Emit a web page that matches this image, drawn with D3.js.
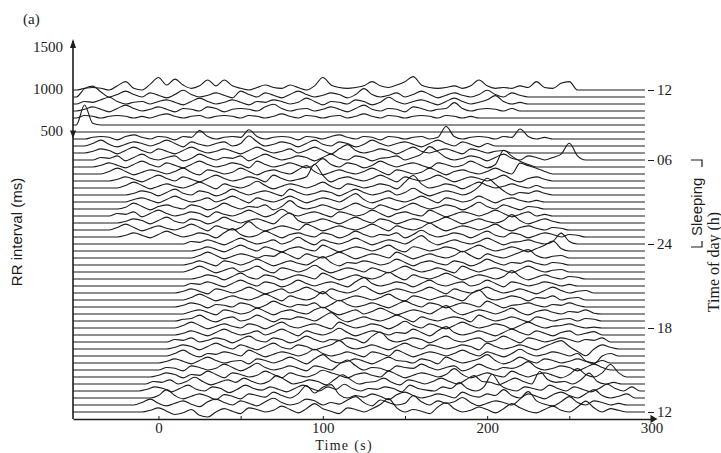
<!DOCTYPE html>
<html>
<head>
<meta charset="utf-8">
<script src="https://cdn.jsdelivr.net/npm/d3@7"></script>
<style>
body { margin: 0; background: #fff; }
</style>
</head>
<body>
<div id="chart"></div>
<script>
const width = 721
const height = 453

// time of day of each 5-min segment (h), bottom trace first
const hours = [12, 12.5, 13, 13.5, 14, 14.5, 15, 15.5, 16, 16.5, 17, 17.5, 18, 18.5, 19, 19.5,
    20, 20.5, 21, 21.5, 22, 22.5, 23, 23.5, 24, 24.5, 25, 25.5, 26, 26.5, 27, 27.5, 28, 28.5,
    29, 29.5, 30, 30.5, 31, 31.5, 32, 32.5, 33, 33.5, 34, 34.5, 35]
// time (s) where the beat-to-beat readings of each trace begin
const starts = [-10, -15, -5, -12, -8, -5, 0, 0, 5, 5, 5, 10, 10, 10, 15, 10,
    15, 10, 15, 20, 15, 15, 20, 20, 15, -25, -30, -25, -30, -25, -20, -20, -25, -30,
    -35, -40, -40, -45, -45, -45, 0, -50, -50, -50, -50, -50, -50]
// RR interval deviation (ms) every 5 s
const rr = [
    [0,20,50,10,-30,-10,30,-40,-60,0,40,10,-20,50,30,0,20,70,30,-10,40,100,40,10,-20,50,30,0,40,90,160,50,0,30,10,-20,60,110,40,0,20,60,30,-10,40,100,50,10,-10,30,70,20,0,60,130,50,0,40,20,0,0],
    [0,30,70,20,-10,20,50,10,-20,40,70,30,0,50,20,-10,40,80,30,0,20,70,50,0,30,10,60,100,30,-10,60,30,0,20,110,40,0,50,20,40,90,30,-10,20,50,30,0,70,160,50,10,-10,40,100,30,0,50,30,0,20,0],
    [0,30,100,30,-10,20,50,20,-20,40,20,-10,50,30,10,70,30,0,50,150,60,130,160,40,0,30,10,50,20,-20,40,70,30,0,20,50,30,0,70,30,10,50,30,100,30,0,50,20,-10,40,70,30,0,50,100,30,0,20,50,0],
    [0,20,50,30,-10,30,70,20,0,50,30,-20,20,70,30,10,50,20,-10,30,70,30,0,50,20,80,30,0,30,20,50,30,-10,70,30,10,0,50,30,100,30,0,50,200,70,20,0,50,30,10,70,30,0,50,20,-10,30,80,30,0,50,0],
    [0,30,20,50,0,30,80,30,-10,20,50,20,70,30,0,30,100,50,0,20,50,30,-10,50,110,50,0,20,30,70,20,-10,50,30,0,30,70,30,0,50,100,30,20,-10,30,70,30,0,150,50,20,30,0,50,130,30,0,20,0,0],
    [0,20,50,30,-10,30,20,70,30,-10,50,30,0,20,70,30,-10,50,20,0,30,80,50,20,-10,30,50,20,0,70,30,-10,20,50,30,0,30,100,30,-10,20,50,20,0,70,30,0,30,50,20,-10,30,100,30,0,50,150,50,0,0],
    [0,30,20,-10,50,30,0,20,70,30,-10,30,80,30,0,20,50,20,-10,50,30,0,70,120,50,0,30,20,-10,50,30,20,70,30,0,30,50,-10,20,70,30,0,30,20,50,100,30,0,20,50,30,-10,30,70,30,0,0],
    [0,20,50,20,-10,30,70,30,0,20,30,-10,50,30,0,30,70,30,-10,50,100,30,0,20,50,20,-10,30,70,30,20,0,50,30,-10,70,30,0,20,50,100,30,-10,20,70,30,0,50,30,0,20,50,20,0,30,0],
    [0,30,70,20,-10,30,20,50,30,0,70,30,-10,20,50,30,0,30,80,30,0,20,50,20,-10,50,30,0,70,30,-10,20,50,30,0,30,70,30,0,50,20,-10,30,80,30,0,20,50,30,0,30,-60,-90,0,30,0],
    [0,20,50,30,-10,30,70,30,0,50,20,-10,30,70,20,0,50,30,-10,20,50,100,30,0,20,50,20,-10,30,70,30,0,50,30,0,20,50,30,-10,70,30,0,20,50,20,-10,30,70,100,30,-30,-80,0,50,20,0],
    [0,30,20,50,0,20,50,30,-10,30,70,20,0,50,30,-10,20,70,30,0,30,20,50,30,-10,70,120,30,0,20,50,30,-10,30,70,20,0,30,50,0,20,70,30,-10,50,30,0,20,50,30,0,30,20,50,0,0],
    [0,20,50,20,-10,30,70,30,0,20,50,0,30,70,30,-10,50,20,0,30,80,30,-10,20,50,30,0,30,20,70,30,-10,50,100,30,0,20,50,20,-10,30,70,30,0,50,20,-10,30,50,0,20,40,0],
    [0,30,70,30,-10,20,50,20,0,50,30,-10,30,70,20,0,30,50,20,-10,70,30,0,20,50,30,-10,30,80,30,0,50,20,-10,30,70,30,0,20,50,30,-10,30,70,30,0,20,30,50,20,0,10,0],
    [0,20,30,70,20,-10,30,50,0,20,70,30,-10,30,20,50,30,0,50,100,30,-10,20,50,20,0,30,70,30,-10,50,20,0,30,50,30,-10,70,30,0,20,50,20,-10,50,30,0,20,30,0,30,20,0],
    [0,30,50,20,-10,50,30,0,20,70,30,-10,30,50,20,0,50,80,30,-10,20,50,0,30,70,30,-10,20,50,30,0,50,100,30,-10,20,50,30,0,30,70,20,-10,30,50,20,0,30,20,50,10,0],
    [0,20,50,30,-10,30,20,0,50,30,-10,20,70,30,0,30,20,50,-10,30,80,30,0,20,50,20,-10,30,70,30,0,50,30,-10,20,50,30,0,70,30,-10,20,30,50,20,0,30,20,50,20,0],
    [0,30,70,30,-10,20,50,20,0,30,70,30,-10,50,20,0,30,100,30,-10,20,50,30,0,30,70,20,-10,50,30,0,30,50,20,-10,70,120,30,0,20,50,30,-10,30,20,50,0,20,30,0],
    [0,20,50,20,-10,50,30,0,30,70,30,-10,20,50,0,30,70,30,-10,50,20,0,30,80,30,-10,20,50,30,0,30,70,30,-10,50,20,0,30,70,30,0,20,50,20,-10,30,70,30,0,20,30,0],
    [0,30,20,50,20,-10,30,70,30,0,50,30,-10,20,70,30,0,30,50,20,-10,50,100,30,0,20,50,30,-10,30,70,20,0,30,50,0,20,70,30,-10,50,30,0,20,50,30,0,20,0],
    [0,20,50,30,-10,30,70,20,0,50,30,-10,20,50,30,0,70,30,-10,20,50,20,0,30,80,30,-10,50,20,0,30,70,30,-10,20,50,30,0,30,100,30,-10,20,50,20,0,30,20,0],
    [0,30,70,30,-10,20,50,0,30,70,20,-10,50,30,0,30,80,30,-10,20,50,30,0,50,20,-10,30,70,30,0,20,50,20,-10,70,30,0,30,50,20,-10,30,70,30,0,20,30,0],
    [0,20,50,20,-10,50,30,0,30,70,30,-10,20,50,20,0,50,100,30,-10,30,20,50,30,0,20,70,30,-10,30,50,20,0,50,30,-10,20,70,30,0,30,20,50,20,0,30,20,0],
    [0,30,70,30,-10,20,50,30,0,30,20,70,30,-10,50,20,0,30,70,30,-10,20,50,30,0,70,30,-10,20,50,20,0,30,80,30,-10,50,20,0,30,70,100,30,0,20,30,0],
    [0,20,50,20,-10,30,70,30,0,50,20,-10,30,50,20,0,70,30,-10,20,50,30,0,30,70,20,-10,50,30,0,20,50,30,-10,30,70,30,0,20,50,20,-10,30,70,120,30,0],
    [0,30,20,50,20,-10,30,70,30,0,20,50,0,30,80,30,-10,50,20,0,30,70,30,-10,20,50,30,0,50,100,30,-10,20,50,20,0,30,70,30,-10,20,30,50,20,0,30,130,30,0],
    [0,20,50,20,-10,30,70,30,0,20,50,30,-10,50,100,30,0,20,70,30,-10,30,50,20,0,50,30,-10,20,70,30,0,30,20,50,-10,30,80,30,0,20,50,30,-10,30,70,20,0,50,30,-10,20,50,30,0,30,20,0,0],
    [0,30,70,30,-10,20,50,20,0,30,70,30,-10,50,20,0,30,100,30,-10,20,50,30,0,70,30,-10,20,50,20,0,30,70,30,-10,50,20,0,30,80,30,-10,20,50,30,0,30,70,20,-10,30,50,20,0,30,20,0,0],
    [0,20,50,30,-10,30,70,20,0,50,30,-10,20,70,30,0,30,50,20,-10,70,120,30,0,20,50,20,-10,30,70,30,0,50,30,-10,20,50,30,0,30,70,30,-10,20,50,20,0,30,100,30,-10,20,50,20,0,0],
    [0,30,20,50,-10,30,70,30,0,20,50,30,-10,50,20,0,30,70,30,-10,20,80,30,0,30,50,20,-10,50,30,0,20,70,30,-10,30,50,20,0,70,30,-10,20,50,30,0,30,70,30,-10,20,50,0,20,0],
    [0,20,70,30,-10,30,50,20,0,50,30,-10,20,70,30,0,30,20,50,-10,30,100,30,0,20,50,20,-10,30,70,30,0,50,20,-10,30,70,30,0,20,50,30,-10,30,80,30,0,50,20,-10,30,20,0],
    [0,30,50,20,-10,30,70,30,0,20,50,0,30,70,30,-10,50,20,0,30,70,30,-10,20,50,30,0,50,100,30,-10,20,50,20,0,30,70,30,-10,50,30,0,20,70,30,-10,30,50,20,0,20,0],
    [0,20,50,30,-10,30,70,20,0,50,30,-10,20,70,30,0,30,50,20,-10,70,30,0,20,50,30,-10,30,70,30,0,20,50,0,30,80,30,-10,20,50,30,0,30,100,200,130,50,0,30,20,50,20,0],
    [0,30,70,30,-10,20,50,20,0,30,70,30,-10,50,20,0,30,80,30,-10,20,50,30,0,30,70,20,-10,50,30,0,20,50,30,-10,70,150,50,0,20,50,30,-10,30,70,30,0,20,50,20,0,30,0],
    [0,20,50,20,-10,30,70,30,0,50,20,-10,30,70,30,0,20,50,30,-10,70,30,0,20,50,200,70,-10,30,50,20,0,30,70,30,-10,50,20,0,30,70,30,-10,20,50,30,0,30,70,20,-10,30,50,20,0,0],
    [0,30,70,30,-10,20,50,30,0,30,70,20,-10,50,30,0,20,70,30,-10,30,50,20,0,50,100,30,-10,20,50,20,0,30,70,30,-10,50,30,0,20,70,30,-10,30,50,20,0,30,70,30,0,130,100,70,30,0,0],
    [0,20,50,20,-10,30,70,30,0,50,20,-10,30,70,30,0,20,50,30,-10,70,30,0,20,50,20,-10,30,100,30,0,50,30,-10,20,70,30,0,30,50,20,-10,50,30,0,20,70,30,-10,30,200,130,70,30,0,0],
    [0,30,20,50,-10,30,70,20,0,30,50,-10,20,70,30,0,30,20,50,-10,30,70,30,0,20,50,30,-10,30,70,20,0,50,30,-10,20,30,50,0,30,70,160,100,30,0,20,50,30,-10,30,70,20,0,50,30,0,30,70,200,50,0,0],
    [0,20,50,30,-10,30,70,30,0,50,20,-10,30,70,30,0,20,50,20,-10,30,70,30,0,20,50,0,30,70,30,-10,50,100,30,0,20,50,30,-10,30,70,20,0,30,50,20,-10,50,30,0,20,30,0,0],
    [0,30,70,20,-10,20,50,30,0,30,70,30,-10,50,20,0,30,50,0,30,120,50,0,20,50,30,-10,30,70,20,0,50,30,-10,20,70,30,0,30,50,20,-10,30,70,30,0,50,20,-10,30,0],
    [0,20,30,20,-10,30,50,20,0,30,20,-10,30,20,100,30,0,20,30,20,110,30,0,20,30,20,-10,30,20,0,30,50,20,0,30,20,-10,30,20,0,20,30,0,20,150,30,0,20,30,20,0,30,20,120,30,0,20,0],
    [0],
    [0,240,20,0],
    [0,30,20,0,20,30,20,0,20,0,30,50,20,0,20,30,0,20,30,20,0,30,20,0,20,50,20,0,30,20,0,20,30,0,20,50,20,0,30,20,0,20,30,20,0,30,20,0,20,0,0],
    [0,20,50,20,-10,30,70,30,0,20,50,20,-10,30,20,0,50,30,-10,20,30,20,0,50,80,30,0,20,30,0,20,50,20,-10,30,70,20,0,30,20,-10,50,30,0,20,30,100,30,0,20,30,20,0,30,0],
    [0,30,20,50,80,30,0,20,30,0,30,50,20,-10,30,70,30,0,20,50,20,-10,30,20,50,30,0,20,70,30,-10,30,20,0,50,30,-10,20,80,30,0,30,50,20,-10,30,70,30,0,20,50,100,30,0,20,0],
    [0,100,130,60,0,30,70,30,0,50,20,-10,30,80,30,0,20,50,20,-10,70,30,0,50,20,-10,30,70,30,0,20,50,30,-10,30,100,30,0,20,50,0,30,70,30,-10,20,50,20,0,30,80,30,0,50,20,0,0],
    [0,20,30,20,0,50,100,20,0,70,150,60,130,60,20,50,120,50,120,50,20,0,30,60,30,20,60,30,0,50,150,60,30,20,30,50,100,50,30,60,100,160,60,30,20,30,50,20,50,120,50,20,30,20,50,30,100,30,20,80,100,0]
]
const rrTicks = [500, 1000, 1500]
const timeTicks = [0, 50, 100, 150, 200, 250, 300]
const hourTicks = [12, 18, 24, 30, 35]
const hourLabels = ['12', '18', '24', '06', '12']

const serif = '"Liberation Serif", "Times New Roman", serif'
const sans = '"Liberation Sans", Arial, sans-serif'
const ink = '#1c1c1c'

const xScale = d3.scaleLinear().domain([-52, 300]).range([73, 651.5])
const hourScale = d3.scaleLinear().domain([12, 35]).range([412, 90])
const rrScale = d3.scaleLinear().domain([500, 1500]).range([130.5, 47])
const tEnd = 296

const svg = d3.select('#chart').append('svg')
    .attr('width', width)
    .attr('height', height)
    .style('display', 'block')

svg.append('rect')
    .attr('width', width)
    .attr('height', height)
    .attr('fill', 'white')

// traces, one per half hour
const lineGroup = svg.append('g').attr('id', 'traces')

hours.forEach(function(h, i) {
    const pts = [{ t: xScale.domain()[0], v: 0 }]
    rr[i].forEach(function(v, j) {
        const t = starts[i] + 5 * j
        if (t > pts[pts.length - 1].t && t < tEnd) pts.push({ t: t, v: v })
    })
    pts.push({ t: tEnd, v: 0 })
    const base = hourScale(h)
    const valueline = d3.line()
        .curve(d3.curveMonotoneX)
        .x(function(d) { return xScale(d.t) })
        .y(function(d) { return base + rrScale(1000 + d.v) - rrScale(1000) })
    lineGroup.append('path')
        .datum(pts)
        .attr('d', valueline)
        .attr('fill', 'none')
        .attr('stroke', ink)
        .attr('stroke-width', 1.1)
        .attr('stroke-linejoin', 'round')
})

// left scale bar
svg.append('line')
    .attr('x1', 73).attr('x2', 73)
    .attr('y1', rrScale(1500) - 6).attr('y2', 419)
    .attr('stroke', ink)
    .attr('stroke-width', 1.6)
svg.append('path')
    .attr('d', 'M73,' + (rrScale(1500) - 8) + 'l-3,9h6z')
    .attr('fill', ink)
svg.append('path')
    .attr('d', 'M70,' + rrScale(500) + 'h6l-3,8z')
    .attr('fill', ink)

const yAxis = svg.append('g')
    .attr('transform', 'translate(73,0)')
    .call(d3.axisLeft(rrScale).tickValues(rrTicks).tickSize(0).tickPadding(10).tickFormat(d3.format('d')))
yAxis.select('.domain').remove()
yAxis.selectAll('text')
    .attr('font-family', serif)
    .attr('font-size', 15)
    .attr('fill', ink)

// time axis
const xAxis = svg.append('g')
    .attr('transform', 'translate(0,419)')
    .call(d3.axisBottom(xScale).tickValues(timeTicks).tickSizeInner(-3).tickSizeOuter(0).tickPadding(3)
        .tickFormat(function(d) { return d % 100 === 0 ? d : '' }))
xAxis.select('.domain')
    .attr('stroke', ink)
    .attr('stroke-width', 1.6)
xAxis.selectAll('.tick line').attr('stroke', ink)
xAxis.selectAll('text')
    .attr('font-family', serif)
    .attr('font-size', 15)
    .attr('fill', ink)
svg.append('path')
    .attr('d', 'M' + (xScale(300) - 1) + ',415l7,4l-7,4z')
    .attr('fill', ink)

// time of day axis
const hAxis = svg.append('g')
    .attr('transform', 'translate(648,0)')
    .call(d3.axisRight(hourScale).tickValues(hourTicks).tickSize(6).tickPadding(3)
        .tickFormat(function(d, i) { return hourLabels[i] }))
hAxis.select('.domain').remove()
hAxis.selectAll('.tick line').attr('stroke', ink)
hAxis.selectAll('text')
    .attr('font-family', serif)
    .attr('font-size', 15)
    .attr('fill', ink)

// labels
svg.append('text')
    .attr('x', 23).attr('y', 24)
    .attr('font-family', serif)
    .attr('font-size', 15)
    .attr('fill', ink)
    .text('(a)')

svg.append('text')
    .attr('transform', 'translate(22,232) rotate(-90)')
    .attr('text-anchor', 'middle')
    .attr('font-family', sans)
    .attr('font-size', 15)
    .attr('fill', ink)
    .text('RR interval (ms)')

svg.append('text')
    .attr('x', 344).attr('y', 449.5)
    .attr('text-anchor', 'middle')
    .attr('font-family', serif)
    .attr('font-size', 14)
    .attr('letter-spacing', 1.3)
    .attr('fill', ink)
    .text('Time (s)')

const sleep = svg.append('g')
    .attr('transform', 'translate(702,247) rotate(-90)')
sleep.append('path')
    .attr('d', 'M0,-11V0H6')
    .attr('fill', 'none')
    .attr('stroke', ink)
    .attr('stroke-width', 1.2)
sleep.append('text')
    .attr('x', 11).attr('y', 0)
    .attr('font-family', sans)
    .attr('font-size', 15)
    .attr('fill', ink)
    .text('Sleeping')
sleep.append('path')
    .attr('d', 'M80,0H87V-11')
    .attr('fill', 'none')
    .attr('stroke', ink)
    .attr('stroke-width', 1.2)

svg.append('text')
    .attr('transform', 'translate(719,262) rotate(-90)')
    .attr('text-anchor', 'middle')
    .attr('font-family', serif)
    .attr('font-size', 16)
    .attr('fill', ink)
    .text('Time of day (h)')
</script>
</body>
</html>
